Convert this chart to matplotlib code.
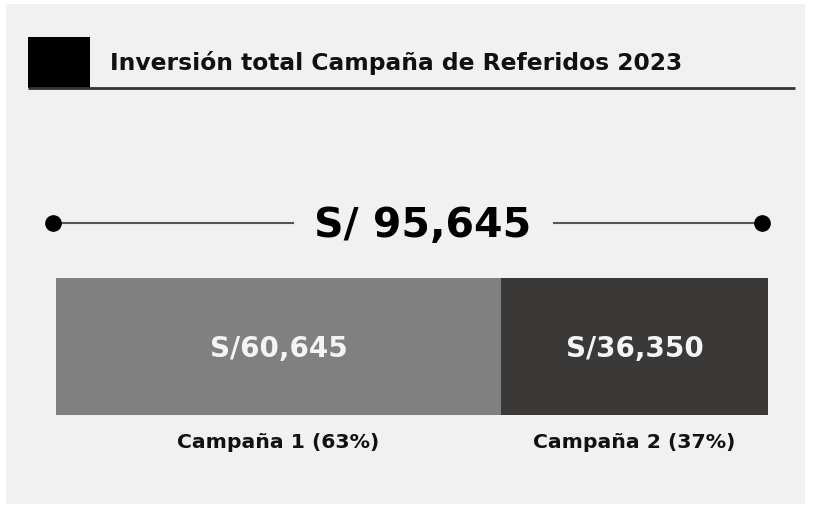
import matplotlib
matplotlib.use("Agg")
import matplotlib.pyplot as plt
from matplotlib.patches import Rectangle
from matplotlib.transforms import blended_transform_factory

# ---- data ----
title = "Inversión total Campaña de Referidos 2023"
total_label = "S/ 95,645"
campaigns = ["Campaña 1", "Campaña 2"]
amounts = [60645, 36350]
shares = [63, 37]
bar_colors = ["#808080", "#3b3938"]

W, H = 815, 508
fig = plt.figure(figsize=(W / 100, H / 100), dpi=100)
fig.patch.set_facecolor("white")

FONT = "DejaVu Sans"

# background / decoration axes in pixel coordinates
bg = fig.add_axes([0, 0, 1, 1])
bg.set_xlim(0, W)
bg.set_ylim(H, 0)
bg.axis("off")
bg.add_patch(Rectangle((6, 4), 799, 500, facecolor="#f1f1f1", edgecolor="none"))
bg.add_patch(Rectangle((28, 37), 62, 51, facecolor="black", edgecolor="none"))
bg.plot([28, 795], [88, 88], color="#333333", lw=2.0, solid_capstyle="butt")
bg.text(110, 63, title, fontsize=16.8, fontweight="bold", family=FONT,
        color="#111111", ha="left", va="center")

# total line with dots
bg.plot([53, 293], [223, 223], color="#555555", lw=1.5)
bg.plot([554, 762], [223, 223], color="#555555", lw=1.5)
bg.plot([53, 762], [223, 223], "o", color="black", ms=11, ls="none")
bg.text(423, 226, total_label, fontsize=29.5, fontweight="bold", family=FONT,
        color="black", ha="center", va="center")

# stacked bar
ax = fig.add_axes([56 / W, 1 - 415 / H, (768 - 56) / W, (415 - 278) / H])
ax.set_xlim(0, sum(amounts))
ax.set_ylim(-0.5, 0.5)
ax.axis("off")
left = 0
trans = blended_transform_factory(ax.transData, ax.transAxes)
for name, val, sh, col in zip(campaigns, amounts, shares, bar_colors):
    ax.barh(0, val, left=left, height=1.0, color=col, edgecolor="none")
    cx = left + val / 2
    ax.text(cx, -0.02, f"S/{val:,}", fontsize=20, fontweight="bold", family=FONT,
            color="#f4f4f4", ha="center", va="center")
    ax.text(cx, -0.2, f"{name} ({sh}%)", transform=trans, fontsize=14.7,
            fontweight="bold", family=FONT, color="#111111",
            ha="center", va="center")
    left += val

fig.savefig("out.png", dpi=100, facecolor="white")
